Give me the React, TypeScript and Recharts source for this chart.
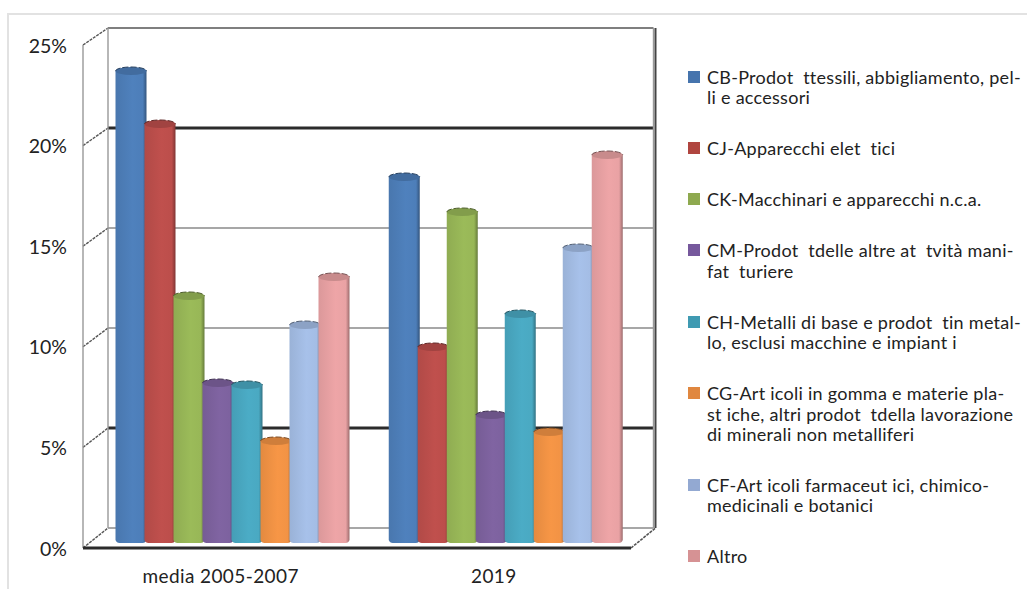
import React from "react";
import { BarChart, Bar, XAxis, YAxis, Legend, usePlotArea } from "recharts";

// Share of exports by sector, two periods
const periods = ["media 2005-2007", "2019"];
const cb = [23.35, 18.05];
const cj = [20.7, 9.55];
const ck = [12.1, 16.3];
const cm = [7.75, 6.15];
const ch = [7.65, 11.2];
const cg = [4.85, 5.3];
const cf = [10.65, 14.5];
const altro = [13.05, 19.15];
const yTicks = [0, 5, 10, 15, 20, 25];

const seriesKeys = ["cb", "cj", "ck", "cm", "ch", "cg", "cf", "altro"];
const seriesValues = [cb, cj, ck, cm, ch, cg, cf, altro];
const barColors = ["#4f81bd", "#c0504d", "#9bbb59", "#8064a2", "#4bacc6", "#f79646", "#a7c1ea", "#eea5a7"];
const legendColors = ["#4674ad", "#b0453f", "#8ea94f", "#76589c", "#3f9ab2", "#e0873f", "#93a9d2", "#d69294"];
const legendLines = [
  ["CB-Prodot  ttessili, abbigliamento, pel-", "li e accessori"],
  ["CJ-Apparecchi elet  tici"],
  ["CK-Macchinari e apparecchi n.c.a."],
  ["CM-Prodot  tdelle altre at  tvità mani-", "fat  turiere"],
  ["CH-Metalli di base e prodot  tin metal-", "lo, esclusi macchine e impiant i"],
  ["CG-Art icoli in gomma e materie pla-", "st iche, altri prodot  tdella lavorazione", "di minerali non metalliferi"],
  ["CF-Art icoli farmaceut ici, chimico-", "medicinali e botanici"],
  ["Altro"],
];

const rows = periods.map((period, i) => {
  const row: Record<string, string | number> = { period };
  seriesKeys.forEach((key, s) => {
    row[key] = seriesValues[s][i];
  });
  return row;
});

const WIDTH = 1027;
const HEIGHT = 589;
const FONT = "Lato, 'Open Sans', sans-serif";
const TEXT = "#222";
const PLOT_LEFT = 96.5;
const PLOT_RIGHT = 643;
const PLOT_TOP = 38;
const PLOT_BOTTOM = 538;
const LEGEND_LEFT = 688;
const LEGEND_WIDTH = WIDTH - LEGEND_LEFT;

// The 3-D box: the back wall sits above and right of the bars, the front edge below and left.
const BACK_DY = -10;
const BACK_LEFT_DX = 11.5;
const BACK_RIGHT_DX = 10.5;
const FRONT_LEFT_DX = -13.5;
const FRONT_RIGHT_DX = -12;
const frontY = (y: number) => (y - PLOT_TOP) * 1.006 + PLOT_TOP + 7;

function shade(hex: string, factor: number) {
  const n = parseInt(hex.slice(1), 16);
  const c = [(n >> 16) & 255, (n >> 8) & 255, n & 255].map((v) => Math.round(v * factor));
  return `rgb(${c[0]},${c[1]},${c[2]})`;
}

function Frame() {
  const plot = usePlotArea();
  if (!plot) return null;
  const { x, y, width, height } = plot;
  const scale = (v: number) => y + height - (v / 25) * height;
  const backL = x + BACK_LEFT_DX;
  const backR = x + width + BACK_RIGHT_DX;
  const frontL = x + FRONT_LEFT_DX;
  const frontR = x + width + FRONT_RIGHT_DX;
  const floorBack = scale(0) + BACK_DY;
  const floorFront = frontY(scale(0));
  return (
    <g fill="none">
      {yTicks.map((v) => {
        const by = scale(v) + BACK_DY;
        const heavy = v === 5 || v === 20;
        const outer = v === 25;
        return (
          <g key={v}>
            <line
              x1={backL}
              x2={backR}
              y1={by}
              y2={by}
              stroke={heavy ? "#2b2b2b" : outer ? "#555" : "#8a8a8a"}
              strokeWidth={heavy ? 3 : outer ? 1.6 : 1.4}
            />
            <line
              x1={frontL}
              y1={frontY(scale(v))}
              x2={backL}
              y2={by}
              stroke="#555"
              strokeWidth={1.4}
              strokeDasharray="3 1"
            />
          </g>
        );
      })}
      <line x1={backL} x2={backL} y1={scale(25) + BACK_DY} y2={floorBack} stroke="#999" strokeWidth={1.4} />
      <line x1={frontL} x2={frontL} y1={frontY(scale(25))} y2={floorFront} stroke="#999" strokeWidth={1.4} />
      <line x1={backR} x2={backR} y1={scale(25) + BACK_DY} y2={floorBack} stroke="#9a9a9a" strokeWidth={1.4} />
      <line x1={backR + 2} x2={backR + 2} y1={scale(25) + BACK_DY} y2={floorBack} stroke="#444" strokeWidth={2} />
      <line x1={frontL} x2={frontR} y1={floorFront} y2={floorFront} stroke="#2b2b2b" strokeWidth={3} />
      <line x1={frontR} y1={floorFront} x2={backR + 2} y2={floorBack} stroke="#555" strokeWidth={1.6} strokeDasharray="3 1" />
    </g>
  );
}

// Cylinder drawn from the rectangle that the bar scale computes.
function Cylinder(props: any) {
  const { x, y, width, height, fill, dataKey, index } = props;
  const left = x - 1;
  const w = width + 2;
  const rx = w / 2;
  const ry = 4;
  const base = y + height;
  const id = `cyl-${dataKey}-${index}`;
  const body = `M${left},${y} L${left},${base + 2} Q${left + 1},${base + ry + 1} ${left + 4},${base + ry + 1} L${left + w - 4},${base + ry + 1} Q${left + w - 1},${base + ry + 1} ${left + w},${base + 2} L${left + w},${y} Z`;
  return (
    <g>
      <defs>
        <linearGradient id={id} x1="0" x2="1" y1="0" y2="0">
          <stop offset="0" stopColor={shade(fill, 0.92)} />
          <stop offset="0.55" stopColor={fill} />
          <stop offset="0.88" stopColor={shade(fill, 0.98)} />
          <stop offset="1" stopColor={shade(fill, 0.66)} />
        </linearGradient>
      </defs>
      <path d={body} fill={`url(#${id})`} />
      <ellipse cx={left + rx} cy={y} rx={rx} ry={ry} fill={shade(fill, 0.84)} />
      <path d={`M${left},${y} A${rx},${ry} 0 0 1 ${left + w},${y}`} fill="none" stroke={shade(fill, 0.5)} strokeWidth={1} strokeDasharray="6 2" />
    </g>
  );
}

function YLabel(props: any) {
  const { y, payload } = props;
  return (
    <text x={67} y={frontY(y)} textAnchor="end" dominantBaseline="central" fontSize={19.5} fontFamily={FONT} fill={TEXT}>
      {`${payload.value}%`}
    </text>
  );
}

function XLabel(props: any) {
  const { x, payload } = props;
  return (
    <text x={x - 12.5} y={575} textAnchor="middle" dominantBaseline="central" fontSize={19} letterSpacing={0.4} fontFamily={FONT} fill={TEXT}>
      {payload.value}
    </text>
  );
}

function LegendList({ payload }: any) {
  return (
    <div style={{ fontFamily: FONT, fontSize: 18, letterSpacing: 0.27, lineHeight: "20.4px", color: TEXT }}>
      {(payload || []).map((entry: any, i: number) => (
        <div key={entry.value} style={{ display: "flex", marginBottom: 30.6 }}>
          <span
            style={{
              width: 12,
              height: 12,
              marginTop: 4,
              marginRight: 7,
              flex: "none",
              background: legendColors[i],
            }}
          />
          <span>
            {legendLines[i].map((line) => (
              <div key={line} style={{ whiteSpace: "pre" }}>
                {line}
              </div>
            ))}
          </span>
        </div>
      ))}
    </div>
  );
}

export default function App() {
  return (
    <div style={{ position: "absolute", left: 0, top: 0, width: WIDTH, height: HEIGHT, overflow: "hidden", background: "#fff" }}>
      <div
        style={{
          position: "absolute",
          left: 7,
          top: 13,
          width: WIDTH,
          height: HEIGHT,
          borderTop: "2px solid #e2e2e2",
          borderLeft: "2px solid #e2e2e2",
        }}
      />
      <BarChart
        width={WIDTH}
        height={HEIGHT}
        data={rows}
        barCategoryGap={20}
        barGap={0}
        margin={{ top: PLOT_TOP, bottom: 0, left: 0, right: WIDTH - PLOT_RIGHT - LEGEND_WIDTH }}
        style={{ position: "absolute", left: 0, top: 0 }}
      >
        <Frame />
        <XAxis dataKey="period" axisLine={false} tickLine={false} tick={<XLabel />} height={HEIGHT - PLOT_BOTTOM} />
        <YAxis
          domain={[0, 25]}
          ticks={yTicks}
          axisLine={false}
          tickLine={false}
          tick={<YLabel />}
          width={PLOT_LEFT}
          interval={0}
        />
        <Legend
          layout="vertical"
          align="right"
          verticalAlign="top"
          width={LEGEND_WIDTH}
          wrapperStyle={{ left: LEGEND_LEFT, top: 67 }}
          content={<LegendList />}
        />
        {seriesKeys.map((key, i) => (
          <Bar key={key} dataKey={key} name={legendLines[i].join(" ")} fill={barColors[i]} shape={<Cylinder />} isAnimationActive={false} />
        ))}
      </BarChart>
    </div>
  );
}
